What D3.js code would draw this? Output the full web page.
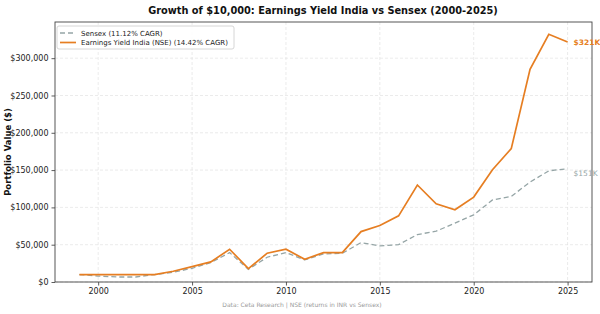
<!DOCTYPE html>
<html><head><meta charset="utf-8">
<script src="https://cdn.jsdelivr.net/npm/d3@7"></script>
<style>body{margin:0;background:#fff}svg{display:block;font-family:"DejaVu Sans",sans-serif}</style>
</head><body><svg id="c" width="600" height="314"></svg>
<script>
const years = d3.range(1999, 2026);
const eyIndia = [10000,10000,10000,10000,10000,14400,20600,26900,43900,17900,38600,43900,30500,39400,39400,67600,75700,88700,130000,104800,96800,113800,150500,178800,285000,332000,321600];
const sensex = [10000,8000,6700,6700,10000,13000,18400,26000,39400,17000,33200,39400,29600,37600,38500,52800,48400,50100,63600,68100,78900,90000,110000,114700,134000,149000,151900];
const xTicks = [2000,2005,2010,2015,2020,2025];
const yTicks = [0,50000,100000,150000,200000,250000,300000];
const seriesNames = ["Sensex (11.12% CAGR)","Earnings Yield India (NSE) (14.42% CAGR)"];
const endLabels = ["$151K","$321K"];

const svg = d3.select("#c");
const L=55,R=592,T=22,B=282;
const x = d3.scaleLinear().domain([1997.7,2026.3]).range([L,R]);
const y = d3.scaleLinear().domain([0,348500]).range([B,T]);

// grid
svg.append("g").selectAll("line").data(xTicks).join("line")
 .attr("x1",d=>x(d)).attr("x2",d=>x(d)).attr("y1",T).attr("y2",B)
 .attr("stroke","#ddd").attr("stroke-width",0.6).attr("stroke-dasharray","3,2");
svg.append("g").selectAll("line").data(yTicks).join("line")
 .attr("x1",L).attr("x2",R).attr("y1",d=>y(d)).attr("y2",d=>y(d))
 .attr("stroke","#ddd").attr("stroke-width",0.6).attr("stroke-dasharray","3,2");

// axes
const xa = svg.append("g").attr("transform",`translate(0,${B})`)
 .call(d3.axisBottom(x).tickValues(xTicks).tickFormat(d3.format("d")).tickSize(3.5).tickPadding(3));
const ya = svg.append("g").attr("transform",`translate(${L},0)`)
 .call(d3.axisLeft(y).tickValues(yTicks).tickFormat(d=>"$"+d3.format(",")(d)).tickSize(3.5).tickPadding(3));
[xa,ya].forEach(a=>{a.select(".domain").remove();a.selectAll("text").attr("font-size",8).attr("fill","#222").attr("font-family","DejaVu Sans");a.selectAll("line").attr("stroke","#333").attr("stroke-width",0.8);});

// frame
svg.append("rect").attr("x",L).attr("y",T).attr("width",R-L).attr("height",B-T)
 .attr("fill","none").attr("stroke","#444").attr("stroke-width",0.9);

const line = d3.line().x((d,i)=>x(years[i])).y(d=>y(d));
svg.append("path").datum(sensex).attr("d",line).attr("fill","none")
 .attr("stroke","#95a5a6").attr("stroke-width",1.3).attr("stroke-dasharray","5,3");
svg.append("path").datum(eyIndia).attr("d",line).attr("fill","none")
 .attr("stroke","#e67e22").attr("stroke-width",1.7);

// end labels
svg.append("text").attr("x",x(2025)+6).attr("y",y(sensex[sensex.length-1])+7).text(endLabels[0])
 .attr("font-size",7.5).attr("fill","#95a5a6");
svg.append("text").attr("x",x(2025)+6).attr("y",y(eyIndia[eyIndia.length-1])+2.5).text(endLabels[1])
 .attr("font-size",7.5).attr("fill","#e67e22").attr("font-weight","bold");

// legend
const lg = svg.append("g");
lg.append("rect").attr("x",57).attr("y",26).attr("width",177).attr("height",23).attr("rx",2)
 .attr("fill","#fff").attr("fill-opacity",0.85).attr("stroke","#ccc").attr("stroke-width",0.8);
lg.append("line").attr("x1",60).attr("x2",76).attr("y1",33).attr("y2",33)
 .attr("stroke","#95a5a6").attr("stroke-width",1.3).attr("stroke-dasharray","5,3");
lg.append("line").attr("x1",60).attr("x2",76).attr("y1",42.5).attr("y2",42.5)
 .attr("stroke","#e67e22").attr("stroke-width",1.7);
lg.append("text").attr("x",81).attr("y",35.5).text(seriesNames[0]).attr("font-size",7).attr("fill","#222");
lg.append("text").attr("x",81).attr("y",45).text(seriesNames[1]).attr("font-size",7).attr("fill","#222");

// titles
svg.append("text").attr("x",323).attr("y",13.5).attr("text-anchor","middle")
 .attr("font-size",9.8).attr("font-weight","bold").attr("fill","#111")
 .text("Growth of $10,000: Earnings Yield India vs Sensex (2000-2025)");
svg.append("text").attr("transform",`translate(11,${(T+B)/2}) rotate(-90)`).attr("text-anchor","middle")
 .attr("font-size",8.5).attr("font-weight","bold").attr("fill","#111").text("Portfolio Value ($)");
svg.append("text").attr("x",302).attr("y",307).attr("text-anchor","middle")
 .attr("font-size",6).attr("fill","#999").text("Data: Ceta Research | NSE (returns in INR vs Sensex)");
</script></body></html>
